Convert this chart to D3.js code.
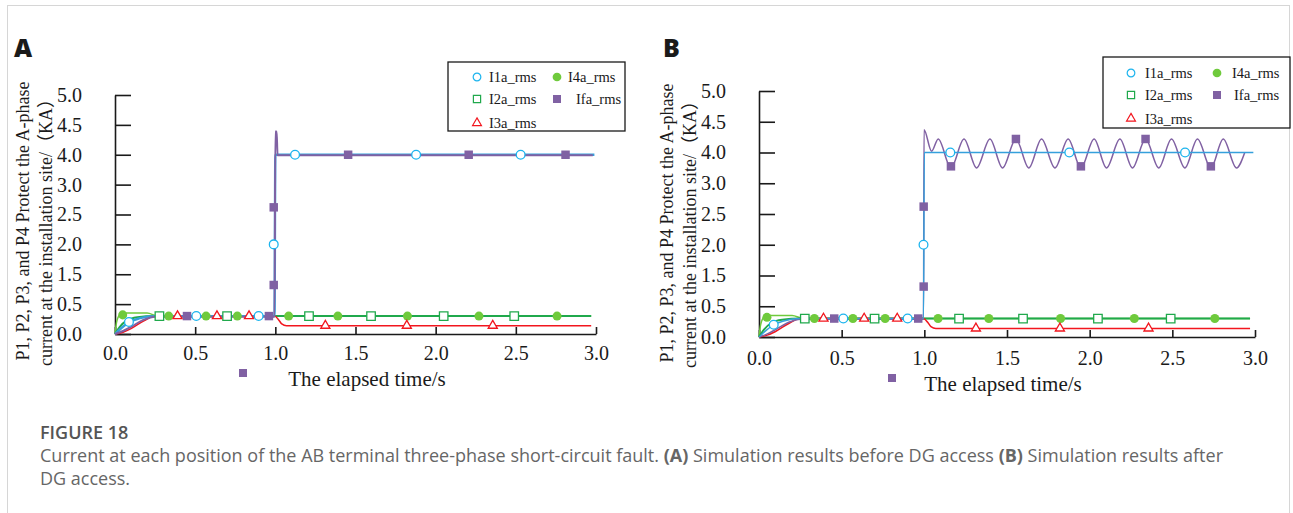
<!DOCTYPE html>
<html>
<head>
<meta charset="utf-8">
<script src="https://cdn.jsdelivr.net/npm/d3@7"></script>
<style>
body { margin: 0; background: #fff; }
</style>
</head>
<body>
<svg id="fig" width="1293" height="513"></svg>
<script>
// axis ticks (labels as printed on the figure)
var xTicks = [0, 0.5, 1.0, 1.5, 2.0, 2.5, 3.0]
var yTicks = [0, 0.5, 1.5, 2.0, 2.5, 3.0, 4.0, 4.5, 5.0]
var seriesNames = ["I1a_rms", "I2a_rms", "I3a_rms", "I4a_rms", "Ifa_rms"]

// curves, [time s, current kA]
var i1aLine = [[0, 0], [0.04, 0.1], [0.09, 0.2], [0.15, 0.26], [0.25, 0.3], [0.995, 0.3], [1.0, 4.0], [2.99, 4.0]]
var i2aLine = [[0, 0], [0.03, 0.12], [0.07, 0.22], [0.14, 0.28], [0.25, 0.3], [2.97, 0.3]]
var i3aLine = [[0, 0], [0.05, 0.03], [0.1, 0.09], [0.18, 0.22], [0.25, 0.3], [0.995, 0.3],
	[1.02, 0.24], [1.04, 0.17], [1.07, 0.14], [2.97, 0.14]]
var i4aLine = [[0, 0], [0.01, 0.2], [0.03, 0.32], [0.06, 0.35], [0.2, 0.35], [0.27, 0.3], [2.97, 0.3]]
var ifaLineA = [[0, 0], [0.05, 0.05], [0.1, 0.12], [0.18, 0.24], [0.25, 0.29], [0.995, 0.29],
	[1.0, 4.39], [1.008, 4.39], [1.014, 3.98], [2.98, 3.98]]
var ifaLineB = [[0, 0], [0.05, 0.05], [0.1, 0.12], [0.18, 0.24], [0.25, 0.29], [0.995, 0.29],
	[0.998, 4.37], [1.044, 4.02], [1.084, 4.22], [1.161, 3.5], [1.24, 4.22], [1.316, 3.5],
	[1.397, 4.22], [1.473, 3.5], [1.554, 4.22], [1.632, 3.5], [1.709, 4.22], [1.79, 3.5],
	[1.87, 4.22], [1.947, 3.5], [2.027, 4.22], [2.102, 3.5], [2.183, 4.22], [2.259, 3.5],
	[2.338, 4.22], [2.418, 3.5], [2.495, 4.22], [2.576, 3.5], [2.652, 4.22], [2.733, 3.5],
	[2.808, 4.22], [2.888, 3.5], [2.938, 4.0]]

// marker positions
var i1aMarkA_t = [0.087, 0.507, 0.896, 0.99, 1.123, 1.878, 2.53]
var i1aMarkB_t = [0.089, 0.51, 0.899, 0.995, 1.157, 1.877, 2.577]
var i1aMark_v = [0.2, 0.3, 0.3, 2.0, 4.0, 4.0, 4.0]
var i2aMark_t = [0.277, 0.699, 1.21, 1.597, 2.05, 2.49]
var i2aMark_v = [0.3, 0.3, 0.3, 0.3, 0.3, 0.3]
var i3aMark_t = [0.39, 0.636, 0.836, 1.312, 1.82, 2.356]
var i3aMark_v = [0.3, 0.3, 0.3, 0.14, 0.14, 0.14]
var i4aMark_t = [0.048, 0.335, 0.568, 0.763, 1.083, 1.39, 1.824, 2.27, 2.757]
var i4aMark_v = [0.32, 0.3, 0.3, 0.3, 0.3, 0.3, 0.3, 0.3, 0.3]
var ifaMarkA_t = [0.449, 0.96, 0.99, 0.99, 1.454, 2.206, 2.81]
var ifaMarkA_v = [0.3, 0.3, 2.62, 1.14, 4.0, 4.0, 4.0]
var ifaMarkB_t = [0.455, 0.963, 0.996, 0.996, 1.161, 1.554, 1.947, 2.338, 2.733]
var ifaMarkB_v = [0.3, 0.3, 2.62, 1.14, 3.55, 4.22, 3.55, 4.22, 3.55]

var colors = { i1aLine: "#35a0dc", i1aMark: "#1cb4ee", i2a: "#20a94c", i3a: "#f2161e", i4a: "#6fca3c", ifa: "#8061a3" }
var serif = "'Liberation Serif', 'Times New Roman', 'Noto Sans CJK SC', serif"
var sans = "'Open Sans', 'Noto Sans', sans-serif"

var svg = d3.select("#fig")

svg.append("rect").attr("x", 7.5).attr("y", 5.5).attr("width", 1282).attr("height", 530)
	.attr("fill", "none").attr("stroke", "#d6d6d6").attr("stroke-width", 1)

function zip(ts, vs) {
	return ts.map(function(t, i) { return [t, vs[i]] })
}

var symCircle = d3.symbol().type(d3.symbolCircle)
var symSquare = d3.symbol().type(d3.symbolSquare)
var symTri = d3.symbol().type(d3.symbolTriangle)

function drawMarkers(g, x, y, pts, sym, size, fill, stroke) {
	g.selectAll(null).data(pts).enter().append("path")
		.attr("transform", function(d) { return "translate(" + x(d[0]) + "," + y(d[1]) + ")" })
		.attr("d", sym.size(size)())
		.attr("fill", fill).attr("stroke", stroke).attr("stroke-width", stroke == "none" ? 0 : 1.3)
}

function drawPanel(p) {
	var x = d3.scaleLinear().domain([0, 3]).range([p.left, p.right])
	var y = d3.scaleLinear().domain(yTicks).range(yTicks.map(function(d, i) {
		return p.bottom - (p.bottom - p.top) * i / (yTicks.length - 1)
	}))
	var g = svg.append("g")

	var ax = g.append("g").attr("transform", "translate(0," + p.bottom + ")")
		.call(d3.axisBottom(x).tickValues(xTicks).tickFormat(d3.format(".1f"))
			.tickSizeInner(-7).tickSizeOuter(0).tickPadding(p.xPad))
	var ay = g.append("g").attr("transform", "translate(" + p.left + ",0)")
		.call(d3.axisLeft(y).tickValues(yTicks).tickFormat(d3.format(".1f"))
			.tickSizeInner(-16).tickSizeOuter(0).tickPadding(33))
	;[ax, ay].forEach(function(a) {
		a.attr("font-family", serif).attr("font-size", 20)
		a.selectAll("path, line").attr("stroke", "#1a1a1a").attr("stroke-width", 1.6)
		a.selectAll("text").attr("fill", "#1a1a1a")
	})

	var line = d3.line().x(function(d) { return x(d[0]) }).y(function(d) { return y(d[1]) })
		.curve(d3.curveMonotoneX)
	function path(data, color, w) {
		g.append("path").datum(data).attr("d", line).attr("fill", "none")
			.attr("stroke", color).attr("stroke-width", w).attr("stroke-linejoin", "round")
	}
	path(i4aLine, colors.i4a, 1.5)
	path(i2aLine, colors.i2a, 2)
	path(i3aLine, colors.i3a, 1.5)
	if (p.name == "A") {
		path(i1aLine, colors.i1aLine, 2.4)
		path(p.ifaLine, colors.ifa, 2)
	} else {
		path(p.ifaLine, colors.ifa, 1.5)
		path(i1aLine, colors.i1aLine, 1.4)
	}

	drawMarkers(g, x, y, zip(i4aMark_t, i4aMark_v), symCircle, 64, colors.i4a, "none")
	drawMarkers(g, x, y, zip(i2aMark_t, i2aMark_v), symSquare, 72, "#fff", colors.i2a)
	drawMarkers(g, x, y, zip(i3aMark_t, i3aMark_v), symTri, 36, "#fff", colors.i3a)
	drawMarkers(g, x, y, zip(p.i1aMark_t, i1aMark_v), symCircle, 60, "#fff", colors.i1aMark)
	drawMarkers(g, x, y, zip(p.ifaMark_t, p.ifaMark_v), symSquare, 72, colors.ifa, "none")

	// axis titles
	g.append("text").attr("x", p.xTitleX).attr("y", p.xTitleY).attr("text-anchor", "middle")
		.attr("font-family", serif).attr("font-size", 21).attr("fill", "#1a1a1a")
		.text("The elapsed time/s")
	g.append("rect").attr("x", p.strayX - 4).attr("y", p.strayY - 4).attr("width", 8).attr("height", 8)
		.attr("fill", colors.ifa)
	g.append("text").attr("transform", "translate(" + p.yT1 + "," + p.yC1 + ") rotate(-90)")
		.attr("text-anchor", "middle").attr("font-family", serif).attr("font-size", 18).attr("fill", "#1a1a1a")
		.text("P1, P2, P3, and P4 Protect the A-phase")
	g.append("text").attr("transform", "translate(" + p.yT2 + "," + p.yC2 + ") rotate(-90)")
		.attr("text-anchor", "middle").attr("font-family", serif).attr("font-size", 18).attr("fill", "#1a1a1a")
		.text("current at the installation site/（KA）")

	// panel letter
	g.append("text").attr("x", p.labX).attr("y", 57).attr("font-family", sans).attr("font-weight", 800)
		.attr("font-size", 25).attr("fill", "#1a1a1a").text(p.name)

	// legend
	var L = p.legend
	g.append("rect").attr("x", L.x0).attr("y", L.y0).attr("width", L.x1 - L.x0).attr("height", L.y1 - L.y0)
		.attr("fill", "#fff").attr("stroke", "#1a1a1a").attr("stroke-width", 1.3)
	var items = [
		{ n: seriesNames[0], sx: L.c1, tx: L.t1, y: L.r[0], sym: symCircle, size: 46, fill: "#fff", stroke: colors.i1aMark },
		{ n: seriesNames[1], sx: L.c1, tx: L.t1, y: L.r[1], sym: symSquare, size: 52, fill: "#fff", stroke: colors.i2a },
		{ n: seriesNames[2], sx: L.c1, tx: L.t1, y: L.r[2], sym: symTri, size: 34, fill: "#fff", stroke: colors.i3a },
		{ n: seriesNames[3], sx: L.c2, tx: L.t2, y: L.r[0], sym: symCircle, size: 60, fill: colors.i4a, stroke: "none" },
		{ n: seriesNames[4], sx: L.c2, tx: L.t3, y: L.r[1], sym: symSquare, size: 64, fill: colors.ifa, stroke: "none" }
	]
	items.forEach(function(it) {
		g.append("path").attr("transform", "translate(" + it.sx + "," + it.y + ")")
			.attr("d", it.sym.size(it.size)()).attr("fill", it.fill).attr("stroke", it.stroke)
			.attr("stroke-width", it.stroke == "none" ? 0 : 1.2)
		g.append("text").attr("x", it.tx).attr("y", it.y + 5).attr("font-family", serif)
			.attr("font-size", 14.5).attr("fill", "#1a1a1a").text(it.n)
	})
}

drawPanel({
	name: "A", left: 115, right: 596, top: 95, bottom: 334, xPad: 12,
	ifaLine: ifaLineA, i1aMark_t: i1aMarkA_t, ifaMark_t: ifaMarkA_t, ifaMark_v: ifaMarkA_v,
	xTitleX: 367, xTitleY: 386, strayX: 243, strayY: 373,
	yT1: 29, yC1: 221, yT2: 52, yC2: 228, labX: 14,
	legend: { x0: 448, x1: 625, y0: 62, y1: 131, c1: 477, t1: 489, c2: 557, t2: 568, t3: 576, r: [77, 99, 123] }
})
drawPanel({
	name: "B", left: 759, right: 1255, top: 91, bottom: 337, xPad: 14,
	ifaLine: ifaLineB, i1aMark_t: i1aMarkB_t, ifaMark_t: ifaMarkB_t, ifaMark_v: ifaMarkB_v,
	xTitleX: 1003, xTitleY: 391, strayX: 892, strayY: 378,
	yT1: 673, yC1: 223, yT2: 696, yC2: 230, labX: 663,
	legend: { x0: 1103, x1: 1290, y0: 57, y1: 128, c1: 1131, t1: 1145, c2: 1217, t2: 1232, t3: 1234, r: [73, 95, 118.5] }
})

// caption
svg.append("text").attr("x", 40).attr("y", 438.5).attr("font-family", sans).attr("font-weight", 600)
	.attr("font-size", 18).attr("fill", "#555").text("FIGURE 18")
var cap1 = svg.append("text").attr("x", 40).attr("y", 462).attr("font-family", sans)
	.attr("font-size", 18).attr("fill", "#666")
cap1.append("tspan").text("Current at each position of the AB terminal three-phase short-circuit fault. ")
cap1.append("tspan").attr("font-weight", 700).text("(A)")
cap1.append("tspan").text(" Simulation results before DG access ")
cap1.append("tspan").attr("font-weight", 700).text("(B)")
cap1.append("tspan").text(" Simulation results after")
svg.append("text").attr("x", 40).attr("y", 484.5).attr("font-family", sans)
	.attr("font-size", 18).attr("fill", "#666").text("DG access.")
</script>
</body>
</html>
